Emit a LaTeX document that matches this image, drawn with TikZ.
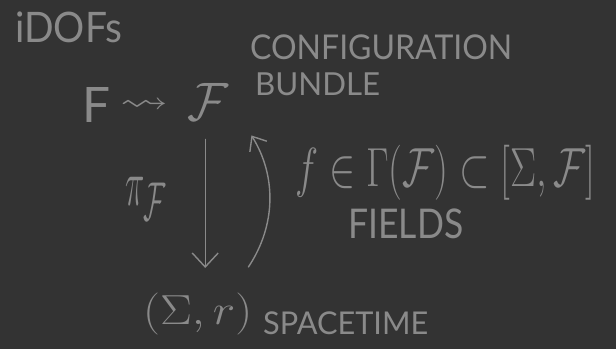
\documentclass[tikz,border=0pt]{standalone}
\usepackage{amsmath,amssymb}
\usepackage{graphicx}
\usepackage{fontspec}
\setmainfont{Lato}
\usetikzlibrary{arrows.meta,calc}
\definecolor{bg}{HTML}{333333}
\definecolor{ink}{HTML}{8A8A8A}
\newcommand{\fitbox}[3]{\resizebox*{#1pt}{#2pt}{#3}}
\begin{document}
\begin{tikzpicture}[x=1pt,y=-1pt,
  txt/.style={anchor=north west, inner sep=0pt, text=ink, font=\fontsize{28}{34}\selectfont},
  arr/.style={draw=ink, line width=1.4pt, line cap=round, line join=round}]
\fill[bg] (0,0) rectangle (616,349);
\useasboundingbox (0,0) rectangle (616,349);
\node[txt] (idofs) at (15,12) {\fitbox{107}{31}{iDOFs}};
\node[txt] (F) at (82,87) {\fitbox{28}{35}{F}};
\node[txt] (sq) at (120,99) {\fitbox{48}{13}{$\rightsquigarrow$}};
\node[txt] (calF) at (187,83) {\fitbox{41}{37}{$\mathcal{F}$}};
\node[txt] (conf) at (250,35) {\fitbox{262}{25}{CONFIGURATION}};
\node[txt] (bundle) at (255,73) {\fitbox{125}{23}{BUNDLE}};
\node[txt] (pi) at (125,177) {\fitbox{41}{43}{$\pi_{\mathcal F}$}};
\node[txt] (sect) at (295,145) {\fitbox{300}{55}{$f\in\Gamma(\mathcal F)\subset[\Sigma,\mathcal F]$}};
\node[txt] (fields) at (348,209) {\fitbox{115}{30}{FIELDS}};
\node[txt] (space) at (143,293) {\fitbox{109}{42}{$(\Sigma,r)$}};
\node[txt] (st) at (263,312) {\fitbox{165}{23}{SPACETIME}};
\draw[arr, -{Straight Barb[length=14pt,width=26pt]}]
  ($(calF.south)+(-2.5,19)$) -- ($(calF.south |- space.north)+(-2.5,-25)$);
\draw[arr, -{Straight Barb[length=12pt,width=20pt]}]
  ($(space.north east)+(-4,-26)$) .. controls +(28,-42) and +(25,40) .. ($(calF.south east)+(23,15)$);
\end{tikzpicture}
\end{document}
